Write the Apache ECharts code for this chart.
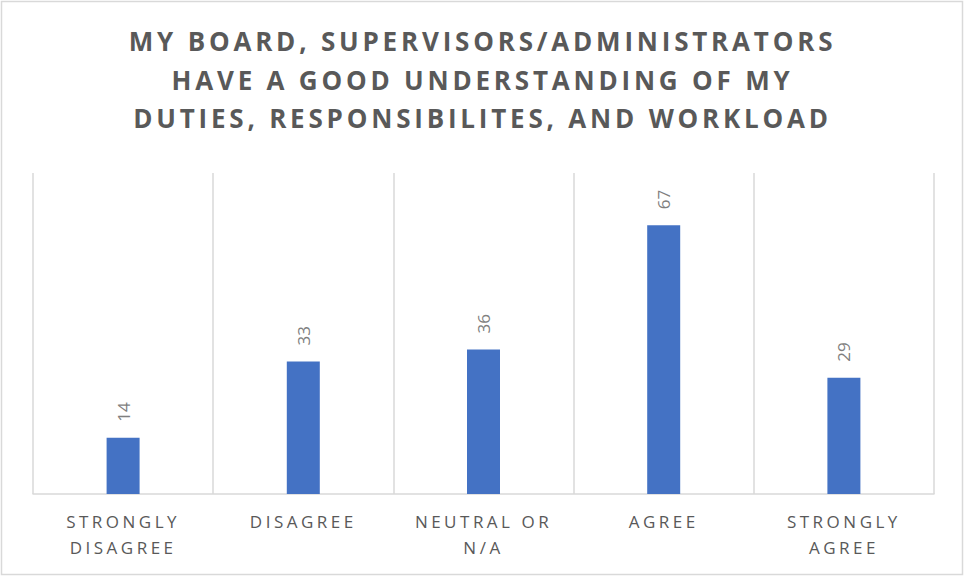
<!DOCTYPE html>
<html>
<head>
<meta charset="utf-8">
<script src="https://cdn.jsdelivr.net/npm/echarts@6/dist/echarts.min.js"></script>
<style>
html,body{margin:0;padding:0;background:#fff;}
#chart{width:965px;height:577px;}
</style>
</head>
<body>
<div id="chart"></div>
<script>
const titleLines = ['MY BOARD, SUPERVISORS/ADMINISTRATORS', 'HAVE A GOOD UNDERSTANDING OF MY', 'DUTIES, RESPONSIBILITES, AND WORKLOAD'];
const categories = ['STRONGLY\nDISAGREE', 'DISAGREE', 'NEUTRAL OR\nN/A', 'AGREE', 'STRONGLY\nAGREE'];
const values = [14, 33, 36, 67, 29];

const chart = echarts.init(document.getElementById('chart'), null, {renderer: 'svg'});
chart.setOption({
  animation: false,
  backgroundColor: '#fff',
  title: {
    text: titleLines.join('\n'),
    left: 'center',
    top: 17,
    textStyle: {
      fontFamily: 'Open Sans',
      fontWeight: 'bold',
      fontSize: 26,
      lineHeight: 38.5,
      color: '#595959'
    }
  },
  graphic: [{
    type: 'rect',
    shape: {x: 1.5, y: 1.5, width: 961, height: 573},
    style: {fill: 'none', stroke: '#d9d9d9', lineWidth: 1.5},
    silent: true
  }],
  grid: {left: 33, right: 31, top: 173, bottom: 83},
  xAxis: {
    type: 'category',
    data: categories,
    axisLine: {lineStyle: {color: '#d9d9d9', width: 1.5}},
    axisTick: {show: false},
    splitLine: {show: true, lineStyle: {color: '#d9d9d9', width: 1.5}},
    axisLabel: {
      fontFamily: 'Open Sans',
      fontSize: 17,
      lineHeight: 26,
      color: '#595959',
      margin: 14,
      interval: 0
    }
  },
  yAxis: {
    type: 'value',
    min: 0,
    max: 80,
    show: false,
    splitLine: {show: false}
  },
  series: [{
    type: 'bar',
    data: values,
    barWidth: 33,
    itemStyle: {color: '#4472c4'},
    label: {
      show: true,
      position: 'top',
      rotate: 90,
      align: 'left',
      verticalAlign: 'middle',
      distance: 16,
      fontFamily: 'Open Sans',
      fontSize: 17,
      color: '#7f7f7f'
    }
  }]
});

function applySpacing() {
  const catLines = new Set();
  categories.forEach(c => c.split('\n').forEach(l => catLines.add(l)));
  const tSet = new Set(titleLines);
  document.querySelectorAll('#chart text').forEach(t => {
    const s = t.textContent;
    if (tSet.has(s)) t.style.letterSpacing = '3.8px';
    else if (catLines.has(s)) t.style.letterSpacing = '3.5px';
  });
}
applySpacing();
chart.on('finished', applySpacing);
</script>
</body>
</html>
